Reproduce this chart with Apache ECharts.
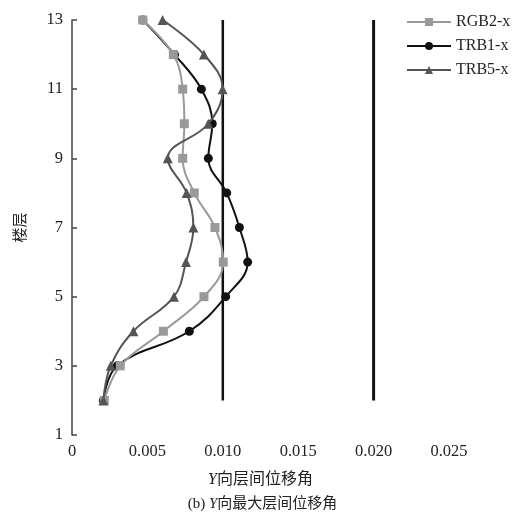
<!DOCTYPE html>
<html><head><meta charset="utf-8">
<script src="https://cdn.jsdelivr.net/npm/echarts@6/dist/echarts.min.js"></script>
<style>html,body{margin:0;padding:0;background:#fff}#c{width:525px;height:518px}</style>
</head><body><div id="c"></div>
<script>
const floorCats = ['1','2','3','4','5','6','7','8','9','10','11','12','13'];
const floors = [2,3,4,5,6,7,8,9,10,11,12,13];
const rgb2 = [0.00214,0.0032,0.00606,0.00875,0.01003,0.00948,0.00811,0.00734,0.00745,0.00734,0.00672,0.00469];
const trb1 = [0.00208,0.0030,0.00778,0.01019,0.01165,0.01110,0.01026,0.00904,0.0093,0.00858,0.0068,0.0047];
const trb5 = [0.00208,0.00257,0.00407,0.00676,0.00756,0.00805,0.0076,0.00635,0.00904,0.00999,0.00875,0.00601];
const limitA = [[0.010,'2'],[0.010,'13']];
const limitB = [[0.020,'2'],[0.020,'13']];
const xTicks = {min:0,max:0.025,interval:0.005};

const mk = v => floors.map((f,i)=>[v[i], String(f)]);
const serif = '"Liberation Serif","Noto Sans CJK SC",serif';
const chart = echarts.init(document.getElementById('c'));
chart.setOption({
  animation:false,
  backgroundColor:'#fff',
  grid:{left:72,right:76,top:20,bottom:83},
  title:{
    text:'{n|(b) }{i|Y}{n|向最大层间位移角}',
    left:'center', bottom:1,
    textStyle:{fontWeight:'normal',rich:{
      n:{fontFamily:serif,fontSize:15,color:'#222',fontWeight:'normal'},
      i:{fontFamily:serif,fontSize:15,color:'#222',fontStyle:'italic',fontWeight:'normal'}
    }}
  },
  legend:{
    data:['RGB2-x','TRB1-x','TRB5-x'],
    orient:'vertical', left:401, top:9,
    itemWidth:44, itemHeight:10, itemGap:8,
    textStyle:{fontFamily:serif,fontSize:16,color:'#222'}
  },
  xAxis:{
    type:'value', min:xTicks.min, max:xTicks.max, interval:xTicks.interval,
    name:'{i|Y}{n|向层间位移角}', nameLocation:'middle', nameGap:37,
    nameTextStyle:{rich:{
      n:{fontFamily:serif,fontSize:16,color:'#222'},
      i:{fontFamily:serif,fontSize:16,color:'#222',fontStyle:'italic'}
    }},
    splitLine:{show:false},
    axisLine:{lineStyle:{color:'#444',width:1.5}},
    axisTick:{inside:true,length:5,lineStyle:{color:'#444',width:1.5}},
    axisLabel:{fontFamily:serif,fontSize:16.5,color:'#222',margin:8,
      formatter:v=> v===0?'0':v.toFixed(3)}
  },
  yAxis:{
    type:'category', data:floorCats, boundaryGap:false,
    name:'楼层', nameLocation:'middle', nameGap:43,
    nameTextStyle:{fontFamily:serif,fontSize:15,color:'#222'},
    axisLine:{lineStyle:{color:'#444',width:1.5}},
    axisTick:{inside:true,length:5,interval:1,lineStyle:{color:'#444',width:1.5}},
    axisLabel:{fontFamily:serif,fontSize:16.5,color:'#222',interval:1,margin:9},
    splitLine:{show:false}
  },
  series:[
    {name:'RGB2-x',type:'line',data:mk(rgb2),smooth:0.4,z:4,
     symbol:'rect',symbolSize:9,
     itemStyle:{color:'#999'},lineStyle:{color:'#999',width:2}},
    {name:'TRB1-x',type:'line',data:mk(trb1),smooth:0.4,z:3,
     symbol:'circle',symbolSize:9,
     itemStyle:{color:'#111'},lineStyle:{color:'#111',width:2}},
    {name:'TRB5-x',type:'line',data:mk(trb5),smooth:0.4,z:5,
     symbol:'triangle',symbolSize:10,
     itemStyle:{color:'#555'},lineStyle:{color:'#555',width:2}},
    {type:'line',data:limitA,symbol:'none',z:2,silent:true,
     lineStyle:{color:'#111',width:2.5}},
    {type:'line',data:limitB,symbol:'none',z:2,silent:true,
     lineStyle:{color:'#111',width:3}}
  ]
});
</script></body></html>
